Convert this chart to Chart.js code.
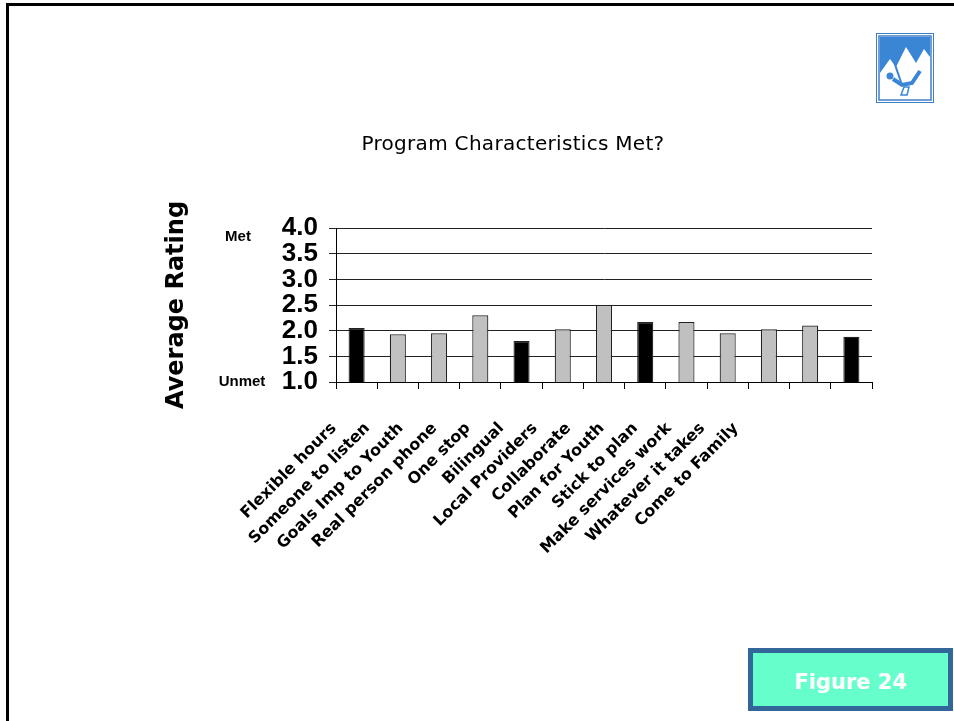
<!DOCTYPE html>
<html>
<head>
<meta charset="utf-8">
<script src="https://cdn.jsdelivr.net/npm/chart.js@4/dist/chart.umd.min.js"></script>
<style>
  html, body { margin: 0; padding: 0; background: #fff; overflow: hidden; }
  #wrap { position: relative; width: 954px; height: 721px; }
  #frame { position: absolute; left: 6px; top: 3px; width: 960px; height: 730px;
           border-top: 3px solid #000; border-left: 3px solid #000; }
  #chart { position: absolute; left: 0; top: 0; }
  #title { position: absolute; left: 313px; width: 400px; top: 133px; text-align: center;
           font-family: "DejaVu Sans", sans-serif; font-size: 20px; line-height: 20px;
           letter-spacing: 0.3px; color: #000; white-space: nowrap; }
  #fig { position: absolute; left: 748px; top: 648px; width: 195px; height: 53px;
         border: 5px solid #336699; background: #66ffcc; color: #fff;
         font-family: "DejaVu Sans", sans-serif; font-weight: bold; font-size: 21px;
         line-height: 58px; text-align: center; }
  #logo { position: absolute; left: 876px; top: 33px; }
</style>
</head>
<body>
<div id="wrap">
  <div id="frame"></div>
  <canvas id="chart" width="954" height="721"></canvas>
  <div id="title">Program Characteristics Met?</div>
  <svg id="logo" width="58" height="70" viewBox="0 0 58 70">
    <rect x="0.5" y="0.5" width="57" height="69" fill="#fff" stroke="#3f7fc7" stroke-width="1"/>
    <rect x="3" y="3" width="52" height="64" fill="#fff" stroke="#3f7fc7" stroke-width="1.5"/>
    <rect x="4" y="4" width="50" height="62" fill="#3a86d4"/>
    <polygon points="4,66 4,40 14,26 20,34 30,14 40,30 48,16 54,24 54,66" fill="#fff"/>
    <line x1="15" y1="20" x2="26" y2="52" stroke="#3a86d4" stroke-width="2"/>
    <circle cx="14" cy="43" r="3.5" fill="#3a86d4"/>
    <polyline points="17,46 26,52 36,50 44,38" fill="none" stroke="#3a86d4" stroke-width="4"/>
    <polygon points="28,54 33,54 31,62 25,62" fill="none" stroke="#3a86d4" stroke-width="1.5"/>
  </svg>
  <div id="fig">Figure 24</div>
</div>
<script>
// ---- data ----
const categories = ['Flexible hours', 'Someone to listen', 'Goals Imp to Youth', 'Real person phone',
  'One stop', 'Bilingual', 'Local Providers', 'Collaborate', 'Plan for Youth', 'Stick to plan',
  'Make services work', 'Whatever it takes', 'Come to Family'];
const averageRating = [2.05, 1.93, 1.95, 2.30, 1.80, 2.03, 2.50, 2.17, 2.17, 1.95, 2.03, 2.10, 1.88];
const highlighted = ['Flexible hours', 'One stop', 'Collaborate', 'Come to Family'];
const yTickValues = [1.0, 1.5, 2.0, 2.5, 3.0, 3.5, 4.0];
const yEndLabels = [{ text: 'Met', value: 4.0 }, { text: 'Unmet', value: 1.0 }];
const yAxisTitle = 'Average Rating';

const endLabelPlugin = {
  id: 'endLabels',
  afterDraw(chart) {
    const y = chart.scales.y;
    const ctx = chart.ctx;
    ctx.save();
    ctx.font = 'bold 15px "Liberation Sans", Arial, sans-serif';
    ctx.fillStyle = '#000';
    ctx.textAlign = 'center';
    ctx.textBaseline = 'middle';
    yEndLabels.forEach((l, i) => {
      const py = y.getPixelForValue(l.value) + (i === 0 ? 9 : 0);
      ctx.fillText(l.text, y.right - (i === 0 ? 98 : 94), py);
    });
    ctx.restore();
  }
};

new Chart(document.getElementById('chart'), {
  type: 'bar',
  data: {
    labels: categories,
    datasets: [{
      data: averageRating,
      backgroundColor: categories.map(c => highlighted.includes(c) ? '#000000' : '#c0c0c0'),
      borderColor: '#222222',
      borderWidth: 1.2,
      barPercentage: 0.39,
      categoryPercentage: 1.0,
      xAxisID: 'x',
      yAxisID: 'y'
    }]
  },
  options: {
    responsive: false,
    animation: false,
    events: [],
    layout: { padding: { left: 0, right: 82, top: 228, bottom: 132 } },
    plugins: { legend: { display: false }, tooltip: { enabled: false }, title: { display: false } },
    scales: {
      x: {
        type: 'category',
        position: 'bottom',
        offset: true,
        grid: { display: true, drawOnChartArea: false, drawTicks: true, tickLength: 7, color: '#000', lineWidth: 1 },
        border: { display: true, color: '#000', width: 1 },
        ticks: { display: false },
        afterFit(s) { s.height = 7; }
      },
      xl: {
        type: 'linear',
        position: 'bottom',
        bounds: 'data',
        offset: false,
        min: 0.06,
        max: 16.06,
        grid: { display: false, drawTicks: false, offset: false },
        border: { display: false },
        ticks: {
          autoSkip: false,
          minRotation: 45,
          maxRotation: 45,
          padding: 30,
          color: '#000',
          font: { family: '"DejaVu Sans", Verdana, sans-serif', weight: 'bold', size: 16 },
          callback: (v) => categories[Math.round(v)]
        },
        afterBuildTicks(s) { s.ticks = categories.map((c, i) => ({ value: i })); },
        afterFit(s) { s.height = 200; }
      },
      y: {
        type: 'linear',
        position: 'left',
        min: 1,
        max: 4,
        grid: { display: true, drawTicks: true, tickLength: 7, color: '#222', lineWidth: 1 },
        border: { display: true, color: '#000', width: 1 },
        ticks: {
          stepSize: 0.5,
          autoSkip: false,
          padding: 11,
          color: '#000',
          font: { family: '"Liberation Sans", Arial, sans-serif', weight: 'bold', size: 26, lineHeight: 1 },
          callback: (v) => Number(v).toFixed(1)
        },
        afterBuildTicks(s) { s.ticks = yTickValues.map(v => ({ value: v })); },
        title: {
          display: true,
          text: yAxisTitle,
          color: '#000',
          font: { family: '"DejaVu Sans", Verdana, sans-serif', weight: 'bold', size: 24, lineHeight: 1.2 },
          padding: { top: 162, bottom: 0 }
        },
        afterFit(s) { s.width = 336; }
      }
    }
  },
  plugins: [endLabelPlugin]
});
</script>
</body>
</html>
